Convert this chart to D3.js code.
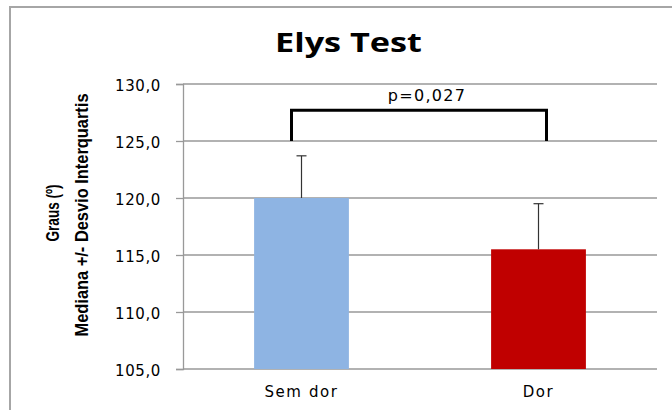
<!DOCTYPE html>
<html><head><meta charset="utf-8">
<script src="https://cdn.jsdelivr.net/npm/d3@7"></script>
<style>
html,body{margin:0;padding:0;background:#fff;}
svg{display:block;}
</style></head>
<body>
<script>
const categories = ["Sem dor", "Dor"];
const medians = [120.0, 115.5];
const errorPlus = [3.7, 4.0];
const barColors = ["#8EB4E3", "#C00000"];
const yTicks = [105, 110, 115, 120, 125, 130];
const yDomain = [105, 130];
const titleText = "Elys Test";
const yLabelLines = ["Graus (º)", "Mediana +/- Desvio Interquartis"];
const pText = "p=0,027";
const bracketTop = 127.7;
const bracketBottom = 125.0;

const W = 672, H = 410;
const svg = d3.select("body").append("svg").attr("width", W).attr("height", H);

// chart border
svg.append("rect").attr("x", 10).attr("y", 7).attr("width", 720).attr("height", 460)
  .attr("fill", "#fff").attr("stroke", "#a6a6a6").attr("stroke-width", 2);

const plot = {left: 183, right: 657, top: 84, bottom: 369};
const x = d3.scaleBand().domain(categories).range([plot.left, plot.right]).paddingInner(0.6).paddingOuter(0.3);
const y = d3.scaleLinear().domain(yDomain).range([plot.bottom, plot.top]);

const fmt = v => d3.format(".1f")(v).replace(".", ",");

// gridlines + y axis
const yAxis = d3.axisLeft(y).tickValues(yTicks).tickFormat(fmt).tickSize(7).tickPadding(15);
const gy = svg.append("g").attr("transform", `translate(${plot.left},0)`).call(yAxis);
gy.select(".domain").attr("stroke", "#999").attr("stroke-width", 1.3);
gy.selectAll(".tick line").attr("stroke", "#999").attr("stroke-width", 1.3);
gy.selectAll(".tick text").attr("font-family", "DejaVu Sans, Verdana, sans-serif")
  .attr("font-size", 15).attr("fill", "#000").attr("letter-spacing", 0.6).attr("dy", "0.45em");
svg.append("g").selectAll("line").data(yTicks).join("line")
  .attr("x1", plot.left).attr("x2", plot.right)
  .attr("y1", d => y(d)).attr("y2", d => y(d))
  .attr("stroke", "#999").attr("stroke-width", 1.3);

// bars
svg.append("g").selectAll("rect").data(categories).join("rect")
  .attr("x", d => x(d)).attr("width", x.bandwidth())
  .attr("y", (d, i) => y(medians[i])).attr("height", (d, i) => y(yDomain[0]) - y(medians[i]))
  .attr("fill", (d, i) => barColors[i]);

// error bars (plus)
const eg = svg.append("g").attr("stroke", "#333").attr("stroke-width", 1.2);
categories.forEach((c, i) => {
  const cx = x(c) + x.bandwidth() / 2;
  const top = y(medians[i] + errorPlus[i]);
  eg.append("line").attr("x1", cx).attr("x2", cx).attr("y1", y(medians[i])).attr("y2", top);
  eg.append("line").attr("x1", cx - 5).attr("x2", cx + 5).attr("y1", top).attr("y2", top);
});

// x labels
svg.append("g").selectAll("text").data(categories).join("text")
  .attr("x", d => x(d) + x.bandwidth() / 2).attr("y", 397)
  .attr("text-anchor", "middle").attr("font-family", "DejaVu Sans, Verdana, sans-serif")
  .attr("font-size", 15).attr("letter-spacing", 1.6).text(d => d);

// significance bracket
const bx1 = x(categories[0]) + x.bandwidth() / 2 - 10;
const bx2 = x(categories[1]) + x.bandwidth() / 2 + 8;
svg.append("path")
  .attr("d", `M${bx1},${y(bracketBottom)}V${y(bracketTop)}H${bx2}V${y(bracketBottom)}`)
  .attr("fill", "none").attr("stroke", "#000").attr("stroke-width", 3);
svg.append("text").attr("x", (bx1 + bx2) / 2 + 8).attr("y", 101)
  .attr("text-anchor", "middle").attr("font-family", "DejaVu Sans, Verdana, sans-serif")
  .attr("font-size", 16).attr("letter-spacing", 1.3).text(pText);

// title
svg.append("text").attr("x", 348.5).attr("y", 52).attr("text-anchor", "middle")
  .attr("font-family", "'Open Sans', Lato, sans-serif").attr("font-weight", "bold")
  .attr("font-size", 27).attr("textLength", 147).attr("lengthAdjust", "spacingAndGlyphs")
  .text(titleText);

// y label
const yl = svg.append("g").attr("transform", "translate(0,213) rotate(-90)");
yl.append("text").attr("x", 0).attr("y", 59).attr("text-anchor", "middle")
  .attr("font-family", "'Liberation Sans Narrow', 'Arial Narrow', 'Liberation Sans', sans-serif")
  .attr("font-weight", "bold").attr("font-size", 19)
  .attr("textLength", 57).attr("lengthAdjust", "spacingAndGlyphs").text(yLabelLines[0]);
yl.append("text").attr("x", -2).attr("y", 88).attr("text-anchor", "middle")
  .attr("font-family", "'Liberation Sans Narrow', 'Arial Narrow', 'Liberation Sans', sans-serif")
  .attr("font-weight", "bold").attr("font-size", 19)
  .attr("textLength", 243).attr("lengthAdjust", "spacingAndGlyphs").text(yLabelLines[1]);
</script>
</body></html>
